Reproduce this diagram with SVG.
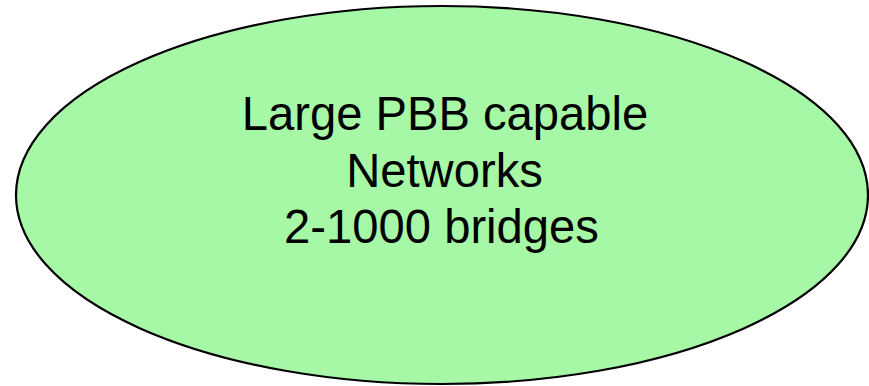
<svg xmlns="http://www.w3.org/2000/svg" width="869" height="386" viewBox="0 0 869 386">
<style>
.lbl{font-family:"Liberation Sans",Arial,sans-serif;font-size:47.2px;fill:#000;text-anchor:middle}
</style>
<rect width="869" height="386" fill="#ffffff"/>
<g id="node-network">
<ellipse cx="442" cy="195" rx="426" ry="189" fill="#a6f8a6" stroke="#000" stroke-width="2.2"/>
<text class="lbl" x="445" y="130">Large PBB capable</text>
<text class="lbl" x="444.5" y="187">Networks</text>
<text class="lbl" x="441.5" y="243">2-1000 bridges</text>
</g>
<g id="connectors"/>
</svg>
